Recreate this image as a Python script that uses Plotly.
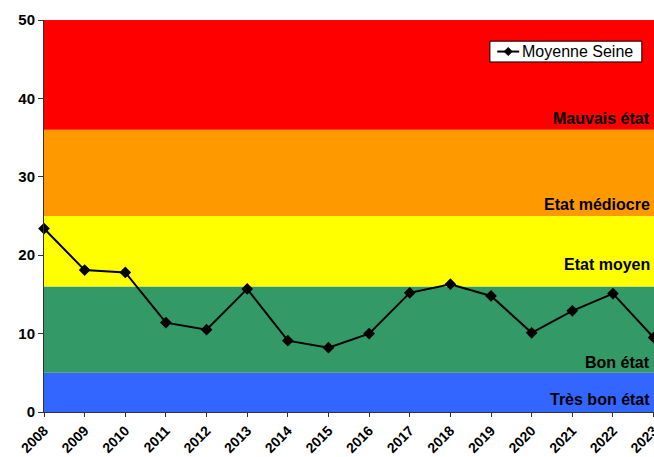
import plotly.graph_objects as go

years = list(range(2008, 2024))
moyenne_seine = [23.4, 18.1, 17.8, 11.4, 10.5, 15.7, 9.1, 8.2, 10.0, 15.2, 16.3, 14.8, 10.1, 12.9, 15.1, 9.5]

band_bounds = [0, 5, 16, 25, 36, 50]
band_colors = ["#3366FF", "#339966", "#FFFF00", "#FF9900", "#FF0000"]
band_labels = ["Très bon état", "Bon état", "Etat moyen", "Etat médiocre", "Mauvais état"]
label_values = [1.6, 6.3, 18.8, 26.5, 37.5]
series_name = "Moyenne Seine"

FONT = "Liberation Sans, Arial, sans-serif"

fig = go.Figure()
fig.add_trace(go.Scatter(
    x=years, y=moyenne_seine, mode="lines+markers", name=series_name,
    line=dict(color="black", width=2),
    marker=dict(symbol="diamond", size=9, color="black"),
    cliponaxis=False, showlegend=False,
))

shapes = []
for i, c in enumerate(band_colors):
    shapes.append(dict(type="rect", xref="paper", yref="y", x0=0, x1=1,
                       y0=band_bounds[i], y1=band_bounds[i + 1],
                       fillcolor=c, line=dict(width=0), layer="below"))

# legend box (drawn manually to match the compact original legend)
lx0, lx1, ly0, ly1 = 0.731, 0.980, 0.893, 0.946
ly = (ly0 + ly1) / 2
shapes.append(dict(type="rect", xref="paper", yref="paper", x0=lx0, x1=lx1, y0=ly0, y1=ly1,
                   fillcolor="white", line=dict(color="black", width=1), layer="above"))
shapes.append(dict(type="line", xref="paper", yref="paper", x0=0.743, x1=0.779, y0=ly, y1=ly,
                   line=dict(color="black", width=2), layer="above"))
shapes.append(dict(type="path", xref="paper", yref="paper", xsizemode="pixel", ysizemode="pixel",
                   xanchor=0.761, yanchor=ly, path="M -4 0 L 0 4 L 4 0 L 0 -4 Z",
                   fillcolor="black", line=dict(color="black", width=1), layer="above"))

annotations = []
for lab, v in zip(band_labels, label_values):
    annotations.append(dict(xref="paper", yref="y", x=0.996, y=v, text=lab,
                            showarrow=False, xanchor="right", yanchor="middle",
                            font=dict(family=FONT, size=16, color="black", weight="bold")))
annotations.append(dict(xref="paper", yref="paper", x=0.781, y=ly, text=series_name,
                        showarrow=False, xanchor="left", yanchor="middle",
                        font=dict(family=FONT, size=16, color="black")))

fig.update_layout(
    width=654, height=457,
    margin=dict(l=44, r=0, t=20, b=45),
    paper_bgcolor="white", plot_bgcolor="white",
    shapes=shapes, annotations=annotations,
    showlegend=False,
    xaxis=dict(range=[2008, 2023.01], tickmode="array", tickvals=years,
               ticktext=[str(y) for y in years], tickangle=-45,
               ticklabeloverflow="allow", ticklabelstandoff=0, automargin=False,
               showgrid=False, zeroline=False, showline=True, linecolor="#333333",
               ticks="outside", ticklen=4, tickcolor="#333333",
               tickfont=dict(family=FONT, size=14, color="black", weight="bold")),
    yaxis=dict(range=[0, 50], dtick=10, showgrid=False, zeroline=False, automargin=False,
               showline=True, linecolor="#333333", ticks="outside", ticklen=5,
               tickcolor="#333333",
               tickfont=dict(family=FONT, size=15, color="black", weight="bold")),
)

fig.write_html("out.html", config={"displayModeBar": False},
               post_script="document.body.style.margin='0';document.body.style.overflow='hidden';")
